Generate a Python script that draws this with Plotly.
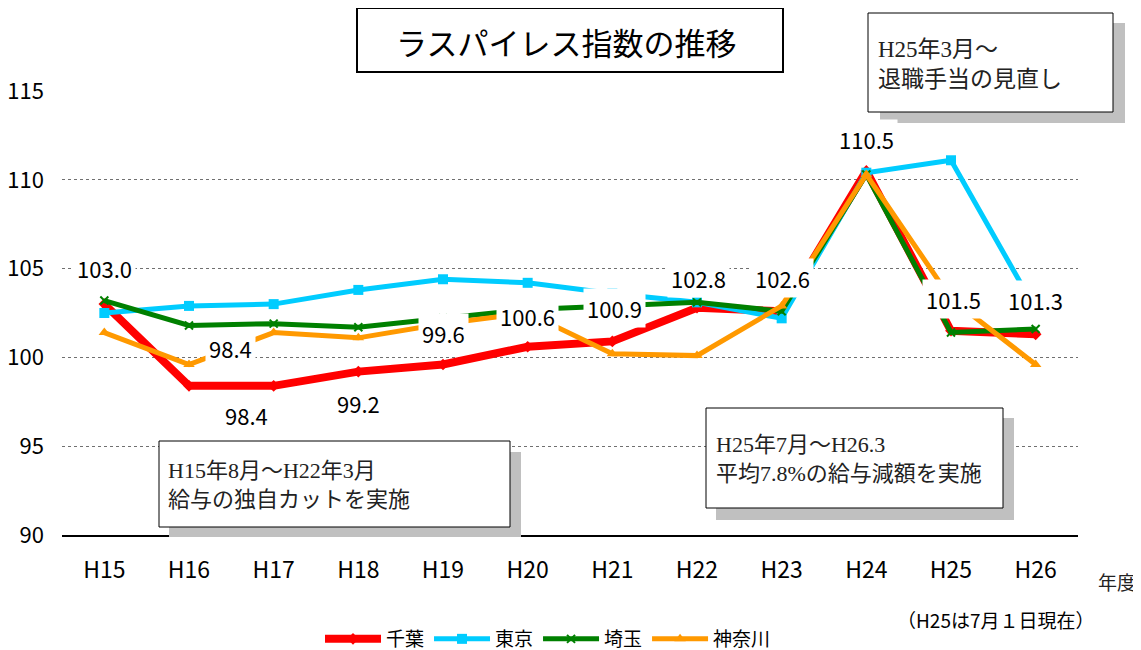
import plotly.graph_objects as go

years = ["H15", "H16", "H17", "H18", "H19", "H20", "H21", "H22", "H23", "H24", "H25", "H26"]
chiba = [103.0, 98.4, 98.4, 99.2, 99.6, 100.6, 100.9, 102.8, 102.6, 110.5, 101.5, 101.3]
tokyo = [102.5, 102.9, 103.0, 103.8, 104.4, 104.2, 103.6, 103.1, 102.2, 110.4, 111.1, 102.7]
saitama = [103.2, 101.8, 101.9, 101.7, 102.2, 102.7, 102.9, 103.1, 102.6, 110.3, 101.4, 101.6]
kanagawa = [101.4, 99.6, 101.4, 101.1, 101.9, 102.5, 100.2, 100.1, 102.9, 110.3, 103.3, 99.6]
y_ticks = [90, 95, 100, 105, 110, 115]

# label offsets in pixels (xshift, yshift) for the 千葉 data labels
label_offsets = [(0, 36), (41, 38), (-27, -29), (0, -31), (0, 32), (0, 31),
                 (2, 33), (1, 30), (1, 33), (0, 32), (2, 32), (0, 34)]

# page offset (browser body margin) and plot area in page pixels
OFF = 8
L, R, T, B = 62, 1078, 91, 535
W, H = 1141 - OFF, 650 - OFF

def px(x):
    return (x - L) / (R - L)

def py(y):
    return (B - y) / (B - T)

JP = "Noto Sans CJK JP"
SERIF = "Liberation Serif, Noto Sans CJK JP"

fig = go.Figure()
fig.add_trace(go.Scatter(x=years, y=chiba, name="千葉", mode="lines+markers",
                         line=dict(color="#ff0000", width=8),
                         marker=dict(symbol="diamond", size=9, color="#ff0000")))
fig.add_trace(go.Scatter(x=years, y=tokyo, name="東京", mode="lines+markers",
                         line=dict(color="#00ccff", width=5),
                         marker=dict(symbol="square", size=10, color="#00ccff")))
fig.add_trace(go.Scatter(x=years, y=saitama, name="埼玉", mode="lines+markers",
                         line=dict(color="#008000", width=5),
                         marker=dict(symbol="x-thin", size=8, color="#008000",
                                     line=dict(color="#008000", width=2))))
fig.add_trace(go.Scatter(x=years, y=kanagawa, name="神奈川", mode="lines+markers",
                         line=dict(color="#ff9900", width=5),
                         marker=dict(symbol="triangle-up", size=10, color="#ff9900")))

annotations = []
for i, (yr, v) in enumerate(zip(years, chiba)):
    dx, dy = label_offsets[i]
    annotations.append(dict(x=yr, y=v, xref="x", yref="y", text=f"{v:.1f}",
                            showarrow=False, xshift=dx, yshift=dy,
                            xanchor="center", yanchor="middle",
                            bgcolor="white", borderpad=3,
                            font=dict(family=JP, size=22, color="black")))

shapes = []

def box(x0, y0, x1, y1, shadow, bw=1):
    sx0, sy0, sx1, sy1 = shadow
    shapes.append(dict(type="rect", xref="paper", yref="paper",
                       x0=px(sx0), x1=px(sx1), y0=py(sy1), y1=py(sy0),
                       fillcolor="#c0c0c0", line=dict(width=0), layer="above"))
    shapes.append(dict(type="rect", xref="paper", yref="paper",
                       x0=px(x0), x1=px(x1), y0=py(y1), y1=py(y0),
                       fillcolor="white", line=dict(color="black", width=bw), layer="above"))

def text(x, y, s, size, family=JP, xanchor="center", align="center", color="black"):
    annotations.append(dict(x=px(x), y=py(y), xref="paper", yref="paper",
                            xanchor=xanchor, yanchor="middle", align=align,
                            text=s, showarrow=False,
                            font=dict(family=family, size=size, color=color)))

# title box
shapes.append(dict(type="rect", xref="paper", yref="paper",
                   x0=px(357), x1=px(783), y0=py(72), y1=py(8),
                   fillcolor="white", line=dict(color="black", width=2), layer="above"))
text(566, 42, "ラスパイレス指数の推移", 31)

# top right box
box(868, 13, 1113, 112, (880, 23, 1125, 123))
text(876, 64, "H25年3月～<br>退職手当の見直し", 23, SERIF, "left", "left", "#222")

# bottom left box
box(159, 441, 510, 527, (169, 452, 521, 537))
text(166, 485, "H15年8月～H22年3月<br>給与の独自カットを実施", 22, SERIF, "left", "left", "#222")

# bottom right box
box(706, 408, 1003, 508, (716, 418, 1014, 520))
text(714, 459, "H25年7月～H26.3<br>平均7.8%の給与減額を実施", 22, SERIF, "left", "left", "#222")

text(1117, 583, "年度", 19, SERIF, color="#222")
text(995, 619, "（H25は7月１日現在）", 19)

fig.update_layout(
    width=W, height=H,
    margin=dict(l=L - OFF, r=W - (R - OFF), t=T - OFF, b=H - (B - OFF), pad=0,
                autoexpand=False),
    paper_bgcolor="white", plot_bgcolor="white",
    showlegend=True,
    legend=dict(orientation="h", x=px(548), xanchor="center", y=py(639), yanchor="middle",
                font=dict(family=JP, size=19, color="black"), itemwidth=56,
                tracegroupgap=0, bgcolor="rgba(0,0,0,0)"),
    annotations=annotations, shapes=shapes,
    font=dict(family=JP),
)
fig.update_xaxes(type="category", range=[-0.5, 11.5], showgrid=False,
                 showline=True, linecolor="black", linewidth=1.5,
                 ticks="", ticklabelstandoff=14, automargin=False,
                 tickfont=dict(family=JP, size=23, color="black"))
fig.update_yaxes(range=[90, 115], tickvals=y_ticks, showgrid=True,
                 gridcolor="#707070", griddash="dot", gridwidth=1,
                 zeroline=False, showline=False, ticks="", ticklabelstandoff=17,
                 automargin=False,
                 tickfont=dict(family=JP, size=22, color="black"))

fig.write_html("out.html")
